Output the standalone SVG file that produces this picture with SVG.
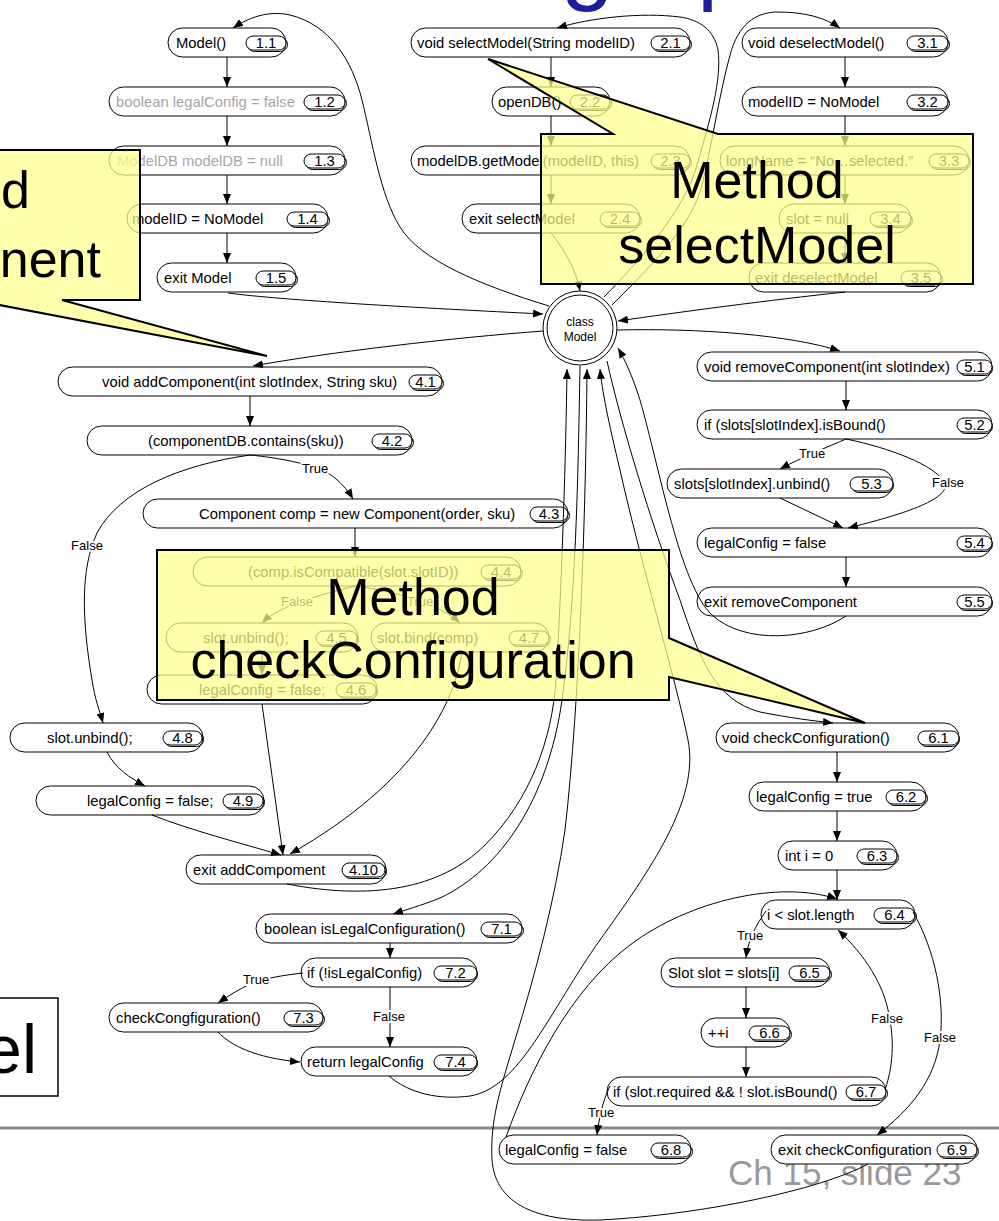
<svg xmlns="http://www.w3.org/2000/svg" width="999" height="1221" viewBox="0 0 999 1221">
<style>
  .box { fill: #fff; stroke: #000; stroke-width: 1; }
  .bd { fill: #fff; stroke: #000; stroke-width: 1; }
  .bs { fill: none; stroke: #000; stroke-width: 1; }
  .t { font-family: "Liberation Sans", Arial, sans-serif; font-size: 14.8px; fill: #000; }
  .g { fill: #a6a6a6; }
  .bt { font-family: "Liberation Sans", Arial, sans-serif; font-size: 14.8px; fill: #000; text-anchor: middle; }
  .e { fill: none; stroke: #000; stroke-width: 1; marker-end: url(#ah); }
  .lb { font-family: "Liberation Sans", Arial, sans-serif; font-size: 13px; fill: #000; text-anchor: middle; stroke: #fff; stroke-width: 4px; paint-order: stroke; stroke-linejoin: round; }
  .co { fill: #ffff8c; fill-opacity: 0.72; stroke: #000; stroke-width: 2; stroke-linejoin: miter; }
  .ct { font-family: "Liberation Sans", Arial, sans-serif; font-size: 52px; fill: #000; text-anchor: middle; }
</style>
<defs>
  <marker id="ah" viewBox="0 0 10 8" refX="10" refY="4" markerWidth="10" markerHeight="8" markerUnits="userSpaceOnUse" orient="auto">
    <path d="M0,0 L10,4 L0,8 z" fill="#000"/>
  </marker>
</defs>

<rect x="0" y="0" width="999" height="1221" fill="#fff"/>

<!-- slide title (descenders only) -->
<g id="title" font-family="Liberation Sans, Arial, sans-serif" font-size="95" fill="#1c1c9c">
  <text x="561" y="-8">g</text>
  <text x="697" y="-8">p</text>
</g>

<!-- footer rule and slide number -->
<line x1="0" y1="1128" x2="999" y2="1128" stroke="#888" stroke-width="3"/>
<text x="728" y="1185" font-family="Liberation Sans, Arial, sans-serif" font-size="35" fill="#999">Ch 15, slide 23</text>

<!-- class node -->
<g id="classModel">
  <circle cx="580" cy="328" r="37" fill="#fff" stroke="#000" stroke-width="1"/>
  <circle cx="580" cy="328" r="33" fill="none" stroke="#000" stroke-width="1"/>
  <text x="580" y="326" font-family="Liberation Sans, Arial, sans-serif" font-size="12" text-anchor="middle">class</text>
  <text x="580" y="341" font-family="Liberation Sans, Arial, sans-serif" font-size="12" text-anchor="middle">Model</text>
</g>

<!-- Model() -->
<g id="n1_1"><rect class="box" x="168" y="28" width="118" height="29" rx="14.5"/><text class="t" x="176" y="48">Model()</text><rect class="bs" x="247.5" y="37.5" width="40" height="14" rx="7"/><rect class="bd" x="246" y="36" width="40" height="14" rx="7"/><text class="bt" x="266" y="48">1.1</text></g>
<g id="n1_2"><rect class="box" x="109" y="87" width="236" height="29" rx="14.5"/><text class="t g" x="116" y="107">boolean legalConfig = false</text><rect class="bs" x="305.5" y="96.5" width="41" height="14" rx="7"/><rect class="bd" x="304" y="95" width="41" height="14" rx="7"/><text class="bt" x="324.5" y="107">1.2</text></g>
<g id="n1_3"><rect class="box" x="109" y="146" width="236" height="29" rx="14.5"/><text class="t g" x="117" y="166">ModelDB modelDB = null</text><rect class="bs" x="305.5" y="155.5" width="41" height="14" rx="7"/><rect class="bd" x="304" y="154" width="41" height="14" rx="7"/><text class="bt" x="324.5" y="166">1.3</text></g>
<g id="n1_4"><rect class="box" x="127" y="204" width="201" height="29" rx="14.5"/><text class="t" x="132" y="224">modelID = NoModel</text><rect class="bs" x="288.5" y="213.5" width="41" height="14" rx="7"/><rect class="bd" x="287" y="212" width="41" height="14" rx="7"/><text class="bt" x="307.5" y="224">1.4</text></g>
<g id="n1_5"><rect class="box" x="157" y="263" width="139" height="29" rx="14.5"/><text class="t" x="164" y="283">exit Model</text><rect class="bs" x="257.5" y="272.5" width="40" height="14" rx="7"/><rect class="bd" x="256" y="271" width="40" height="14" rx="7"/><text class="bt" x="276" y="283">1.5</text></g>

<!-- selectModel -->
<g id="n2_1"><rect class="box" x="411" y="28" width="279" height="29" rx="14.5"/><text class="t" x="417" y="48">void selectModel(String modelID)</text><rect class="bs" x="652.5" y="37.5" width="39" height="14" rx="7"/><rect class="bd" x="651" y="36" width="39" height="14" rx="7"/><text class="bt" x="670.5" y="48">2.1</text></g>
<g id="n2_2"><rect class="box" x="492" y="87" width="118" height="29" rx="14.5"/><text class="t" x="498" y="107">openDB()</text><rect class="bs" x="571.5" y="96.5" width="40" height="14" rx="7"/><rect class="bd" x="570" y="95" width="40" height="14" rx="7"/><text class="bt" x="590" y="107">2.2</text></g>
<g id="n2_3"><rect class="box" x="411" y="146" width="279" height="29" rx="14.5"/><text class="t" x="417" y="166">modelDB.getModel(modelID, this)</text><rect class="bs" x="652.5" y="155.5" width="39" height="14" rx="7"/><rect class="bd" x="651" y="154" width="39" height="14" rx="7"/><text class="bt" x="670.5" y="166">2.3</text></g>
<g id="n2_4"><rect class="box" x="462" y="204" width="178" height="29" rx="14.5"/><text class="t" x="469" y="224">exit selectModel</text><rect class="bs" x="601.5" y="213.5" width="40" height="14" rx="7"/><rect class="bd" x="600" y="212" width="40" height="14" rx="7"/><text class="bt" x="620" y="224">2.4</text></g>

<!-- deselectModel -->
<g id="n3_1"><rect class="box" x="742" y="28" width="206" height="29" rx="14.5"/><text class="t" x="748" y="48">void deselectModel()</text><rect class="bs" x="908.5" y="37.5" width="41" height="14" rx="7"/><rect class="bd" x="907" y="36" width="41" height="14" rx="7"/><text class="bt" x="927.5" y="48">3.1</text></g>
<g id="n3_2"><rect class="box" x="742" y="87" width="206" height="29" rx="14.5"/><text class="t" x="748" y="107">modelID = NoModel</text><rect class="bs" x="908.5" y="96.5" width="41" height="14" rx="7"/><rect class="bd" x="907" y="95" width="41" height="14" rx="7"/><text class="bt" x="927.5" y="107">3.2</text></g>
<g id="n3_3"><rect class="box" x="720" y="146" width="249" height="29" rx="14.5"/><text class="t" x="726" y="166">longName = “No…selected.”</text><rect class="bs" x="930.5" y="155.5" width="40" height="14" rx="7"/><rect class="bd" x="929" y="154" width="40" height="14" rx="7"/><text class="bt" x="949" y="166">3.3</text></g>
<g id="n3_4"><rect class="box" x="779" y="204" width="132" height="29" rx="14.5"/><text class="t" x="786" y="224">slot = null</text><rect class="bs" x="871.5" y="213.5" width="41" height="14" rx="7"/><rect class="bd" x="870" y="212" width="41" height="14" rx="7"/><text class="bt" x="890.5" y="224">3.4</text></g>
<g id="n3_5"><rect class="box" x="749" y="263" width="192" height="29" rx="14.5"/><text class="t" x="755" y="283">exit deselectModel</text><rect class="bs" x="902.5" y="272.5" width="40" height="14" rx="7"/><rect class="bd" x="901" y="271" width="40" height="14" rx="7"/><text class="bt" x="921" y="283">3.5</text></g>

<!-- addComponent -->
<g id="n4_1"><rect class="box" x="58" y="367" width="384" height="29" rx="14.5"/><text class="t" x="102" y="387">void addComponent(int slotIndex, String sku)</text><rect class="bs" x="410.5" y="376.5" width="33" height="14" rx="7"/><rect class="bd" x="409" y="375" width="33" height="14" rx="7"/><text class="bt" x="425.5" y="387">4.1</text></g>
<g id="n4_2"><rect class="box" x="87" y="426" width="325" height="29" rx="14.5"/><text class="t" x="148" y="446">(componentDB.contains(sku))</text><rect class="bs" x="373.5" y="435.5" width="40" height="14" rx="7"/><rect class="bd" x="372" y="434" width="40" height="14" rx="7"/><text class="bt" x="392" y="446">4.2</text></g>
<g id="n4_3"><rect class="box" x="143" y="499" width="425" height="29" rx="14.5"/><text class="t" x="199" y="519">Component comp = new Component(order, sku)</text><rect class="bs" x="531.5" y="508.5" width="38" height="14" rx="7"/><rect class="bd" x="530" y="507" width="38" height="14" rx="7"/><text class="bt" x="549" y="519">4.3</text></g>
<g id="n4_4"><rect class="box" x="193" y="557" width="328" height="29" rx="14.5"/><text class="t" x="248" y="577">(comp.isCompatible(slot.slotID))</text><rect class="bs" x="482.5" y="566.5" width="40" height="14" rx="7"/><rect class="bd" x="481" y="565" width="40" height="14" rx="7"/><text class="bt" x="501" y="577">4.4</text></g>
<g id="n4_5"><rect class="box" x="166" y="623" width="192" height="29" rx="14.5"/><text class="t" x="203" y="643">slot.unbind();</text><rect class="bs" x="317.5" y="632.5" width="41" height="14" rx="7"/><rect class="bd" x="316" y="631" width="41" height="14" rx="7"/><text class="bt" x="336.5" y="643">4.5</text></g>
<g id="n4_7"><rect class="box" x="371" y="623" width="178" height="29" rx="14.5"/><text class="t" x="377" y="643">slot.bind(comp)</text><rect class="bs" x="510.5" y="632.5" width="40" height="14" rx="7"/><rect class="bd" x="509" y="631" width="40" height="14" rx="7"/><text class="bt" x="529" y="643">4.7</text></g>
<g id="n4_6"><rect class="box" x="147" y="675" width="230" height="29" rx="14.5"/><text class="t" x="199" y="695">legalConfig = false;</text><rect class="bs" x="337.5" y="684.5" width="40" height="14" rx="7"/><rect class="bd" x="336" y="683" width="40" height="14" rx="7"/><text class="bt" x="356" y="695">4.6</text></g>
<g id="n4_8"><rect class="box" x="10" y="723" width="193" height="29" rx="14.5"/><text class="t" x="47" y="743">slot.unbind();</text><rect class="bs" x="164.5" y="732.5" width="39" height="14" rx="7"/><rect class="bd" x="163" y="731" width="39" height="14" rx="7"/><text class="bt" x="182.5" y="743">4.8</text></g>
<g id="n4_9"><rect class="box" x="36" y="786" width="228" height="29" rx="14.5"/><text class="t" x="87" y="806">legalConfig = false;</text><rect class="bs" x="224.5" y="795.5" width="40" height="14" rx="7"/><rect class="bd" x="223" y="794" width="40" height="14" rx="7"/><text class="bt" x="243" y="806">4.9</text></g>
<g id="n4_10"><rect class="box" x="186" y="855" width="200" height="29" rx="14.5"/><text class="t" x="193" y="875">exit addCompoment</text><rect class="bs" x="343.5" y="864.5" width="43" height="14" rx="7"/><rect class="bd" x="342" y="863" width="43" height="14" rx="7"/><text class="bt" x="363.5" y="875">4.10</text></g>

<!-- removeComponent -->
<g id="n5_1"><rect class="box" x="697" y="352" width="295" height="29" rx="14.5"/><text class="t" x="704" y="372">void removeComponent(int slotIndex)</text><rect class="bs" x="958.5" y="361.5" width="34" height="14" rx="7"/><rect class="bd" x="957" y="360" width="35" height="14" rx="7"/><text class="bt" x="974.5" y="372">5.1</text></g>
<g id="n5_2"><rect class="box" x="697" y="410" width="295" height="29" rx="14.5"/><text class="t" x="704" y="430">if (slots[slotIndex].isBound()</text><rect class="bs" x="958.5" y="419.5" width="34" height="14" rx="7"/><rect class="bd" x="957" y="418" width="35" height="14" rx="7"/><text class="bt" x="974.5" y="430">5.2</text></g>
<g id="n5_3"><rect class="box" x="667" y="469" width="226" height="29" rx="14.5"/><text class="t" x="674" y="489">slots[slotIndex].unbind()</text><rect class="bs" x="851.5" y="478.5" width="42" height="14" rx="7"/><rect class="bd" x="850" y="477" width="43" height="14" rx="7"/><text class="bt" x="871.5" y="489">5.3</text></g>
<g id="n5_4"><rect class="box" x="697" y="528" width="295" height="29" rx="14.5"/><text class="t" x="704" y="548">legalConfig = false</text><rect class="bs" x="958.5" y="537.5" width="34" height="14" rx="7"/><rect class="bd" x="957" y="536" width="35" height="14" rx="7"/><text class="bt" x="974.5" y="548">5.4</text></g>
<g id="n5_5"><rect class="box" x="697" y="587" width="295" height="29" rx="14.5"/><text class="t" x="704" y="607">exit removeComponent</text><rect class="bs" x="958.5" y="596.5" width="34" height="14" rx="7"/><rect class="bd" x="957" y="595" width="35" height="14" rx="7"/><text class="bt" x="974.5" y="607">5.5</text></g>

<!-- checkConfiguration -->
<g id="n6_1"><rect class="box" x="716" y="723" width="243" height="29" rx="14.5"/><text class="t" x="722" y="743">void checkConfiguration()</text><rect class="bs" x="919.5" y="732.5" width="40" height="14" rx="7"/><rect class="bd" x="918" y="731" width="41" height="14" rx="7"/><text class="bt" x="938.5" y="743">6.1</text></g>
<g id="n6_2"><rect class="box" x="749" y="782" width="177" height="29" rx="14.5"/><text class="t" x="756" y="802">legalConfig = true</text><rect class="bs" x="887.5" y="791.5" width="40" height="14" rx="7"/><rect class="bd" x="886" y="790" width="40" height="14" rx="7"/><text class="bt" x="906" y="802">6.2</text></g>
<g id="n6_3"><rect class="box" x="778" y="841" width="119" height="29" rx="14.5"/><text class="t" x="785" y="861">int i = 0</text><rect class="bs" x="858.5" y="850.5" width="40" height="14" rx="7"/><rect class="bd" x="857" y="849" width="40" height="14" rx="7"/><text class="bt" x="877" y="861">6.3</text></g>
<g id="n6_4"><rect class="box" x="761" y="900" width="154" height="29" rx="14.5"/><text class="t" x="767" y="920">i &lt; slot.length</text><rect class="bs" x="875.5" y="909.5" width="41" height="14" rx="7"/><rect class="bd" x="874" y="908" width="41" height="14" rx="7"/><text class="bt" x="894.5" y="920">6.4</text></g>
<g id="n6_5"><rect class="box" x="661" y="958" width="169" height="29" rx="14.5"/><text class="t" x="668" y="978">Slot slot = slots[i]</text><rect class="bs" x="790.5" y="967.5" width="41" height="14" rx="7"/><rect class="bd" x="789" y="966" width="41" height="14" rx="7"/><text class="bt" x="809.5" y="978">6.5</text></g>
<g id="n6_6"><rect class="box" x="701" y="1018" width="89" height="29" rx="14.5"/><text class="t" x="708" y="1038">++i</text><rect class="bs" x="750.5" y="1027.5" width="41" height="14" rx="7"/><rect class="bd" x="749" y="1026" width="41" height="14" rx="7"/><text class="bt" x="769.5" y="1038">6.6</text></g>
<g id="n6_7"><rect class="box" x="607" y="1077" width="279" height="29" rx="14.5"/><text class="t" x="613" y="1097">if (slot.required &amp;&amp; ! slot.isBound()</text><rect class="bs" x="847.5" y="1086.5" width="40" height="14" rx="7"/><rect class="bd" x="846" y="1085" width="40" height="14" rx="7"/><text class="bt" x="866" y="1097">6.7</text></g>
<g id="n6_8"><rect class="box" x="499" y="1135" width="192" height="29" rx="14.5"/><text class="t" x="505" y="1155">legalConfig = false</text><rect class="bs" x="652.5" y="1144.5" width="40" height="14" rx="7"/><rect class="bd" x="651" y="1143" width="40" height="14" rx="7"/><text class="bt" x="671" y="1155">6.8</text></g>
<g id="n6_9"><rect class="box" x="771" y="1135" width="206" height="29" rx="14.5"/><text class="t" x="778" y="1155">exit checkConfiguration</text><rect class="bs" x="938.5" y="1144.5" width="40" height="14" rx="7"/><rect class="bd" x="937" y="1143" width="40" height="14" rx="7"/><text class="bt" x="957" y="1155">6.9</text></g>

<!-- isLegalConfiguration -->
<g id="n7_1"><rect class="box" x="256" y="914" width="266" height="29" rx="14.5"/><text class="t" x="264" y="934">boolean isLegalConfiguration()</text><rect class="bs" x="482.5" y="923.5" width="41" height="14" rx="7"/><rect class="bd" x="481" y="922" width="41" height="14" rx="7"/><text class="bt" x="501.5" y="934">7.1</text></g>
<g id="n7_2"><rect class="box" x="301" y="958" width="176" height="29" rx="14.5"/><text class="t" x="307" y="978">if (!isLegalConfig)</text><rect class="bs" x="435.5" y="967.5" width="42" height="14" rx="7"/><rect class="bd" x="434" y="966" width="43" height="14" rx="7"/><text class="bt" x="455.5" y="978">7.2</text></g>
<g id="n7_3"><rect class="box" x="109" y="1003" width="214" height="29" rx="14.5"/><text class="t" x="116" y="1023">checkCongfiguration()</text><rect class="bs" x="285.5" y="1012.5" width="39" height="14" rx="7"/><rect class="bd" x="284" y="1011" width="39" height="14" rx="7"/><text class="bt" x="303.5" y="1023">7.3</text></g>
<g id="n7_4"><rect class="box" x="301" y="1047" width="176" height="29" rx="14.5"/><text class="t" x="307" y="1067">return legalConfig</text><rect class="bs" x="435.5" y="1056.5" width="42" height="14" rx="7"/><rect class="bd" x="434" y="1055" width="43" height="14" rx="7"/><text class="bt" x="455.5" y="1067">7.4</text></g>

<!-- connectors -->
<g id="edges">
  <!-- Model() -->
  <path class="e" d="M227,57 L227,87"/>
  <path class="e" d="M227,116 L227,146"/>
  <path class="e" d="M227,175 L227,204"/>
  <path class="e" d="M227,233 L227,263"/>
  <!-- selectModel -->
  <path class="e" d="M551,57 L551,87"/>
  <path class="e" d="M551,116 L551,146"/>
  <path class="e" d="M551,175 L551,204"/>
  <!-- deselectModel -->
  <path class="e" d="M845,57 L845,87"/>
  <path class="e" d="M845,116 L845,146"/>
  <path class="e" d="M845,175 L845,204"/>
  <path class="e" d="M845,233 L845,263"/>
  <!-- class node links -->
  <path class="e" d="M549,306 C480,285 420,260 400,227 C380,195 372,140 362,100 C352,60 330,25 290,15 C268,10 248,18 233,28"/>
  <path class="e" d="M604,297 C640,260 685,210 697,165 C710,120 722,80 718,50 C714,30 700,20 680,17 C640,12 590,18 557,28"/>
  <path class="e" d="M612,305 C655,262 692,225 702,185 C712,145 718,100 730,55 C738,25 755,12 778,12 C805,12 826,18 840,28"/>
  <path class="e" d="M228,293 C280,300 420,308 543,314"/>
  <path class="e" d="M551,233 C565,250 576,270 580,291"/>
  <path class="e" d="M845,292 C770,300 680,312 618,321"/>
  <path class="e" d="M543,331 C450,338 330,352 253,366"/>
  <path class="e" d="M617,330 C700,328 790,335 840,351"/>
  <path class="e" d="M287,884 C370,900 440,890 485,845 C530,800 552,740 556,680 C562,580 566,450 567,369"/>
  <path class="e" d="M580,366 C578,480 576,600 562,700 C548,800 500,870 440,898 C420,906 405,910 393,914"/>
  <path class="e" d="M868,1164 C820,1190 700,1215 600,1220 C530,1222 495,1200 492,1160 C490,1120 500,1090 515,1040 C535,975 555,900 565,830 C580,700 586,500 587,369"/>
  <path class="e" d="M389,1076 C410,1094 440,1100 470,1096 C520,1088 550,1010 600,940 C650,870 700,800 688,740 C676,680 640,560 620,470 C608,420 602,390 600,369"/>
  <path class="e" d="M607,361 C620,420 650,520 680,600 C700,660 715,700 760,712 C790,718 815,721 833,723"/>
  <path class="e" d="M846,616 C810,640 745,645 712,615 C680,585 660,470 640,400 C632,375 625,360 618,348"/>
  <!-- addComponent -->
  <path class="e" d="M250,396 L250,426"/>
  <path class="e" d="M250,455 C280,458 320,465 335,478 C343,485 349,492 353,499"/>
  <path class="e" d="M250,455 C180,465 120,490 97,533 C80,570 82,620 92,680 C95,700 100,712 103,723"/>
  <path class="e" d="M355,528 L355,557"/>
  <path class="e" d="M355,586 C320,595 280,605 262,623"/>
  <path class="e" d="M355,586 C400,592 440,605 460,623"/>
  <path class="e" d="M262,652 L262,675"/>
  <path class="e" d="M262,704 L283,855"/>
  <path class="e" d="M462,652 C455,700 420,780 290,854"/>
  <path class="e" d="M107,752 C115,768 130,778 145,786"/>
  <path class="e" d="M152,815 C190,830 240,843 281,855"/>
  <!-- removeComponent -->
  <path class="e" d="M846,381 L846,410"/>
  <path class="e" d="M846,439 C830,446 800,458 780,469"/>
  <path class="e" d="M846,439 C890,448 935,465 945,483 C950,500 900,515 848,528"/>
  <path class="e" d="M780,498 L843,528"/>
  <path class="e" d="M846,557 L846,587"/>
  <!-- checkConfiguration -->
  <path class="e" d="M837,752 L837,782"/>
  <path class="e" d="M837,811 L837,841"/>
  <path class="e" d="M837,870 L837,900"/>
  <path class="e" d="M766,911 C756,925 748,940 746,958"/>
  <path class="e" d="M746,987 L746,1018"/>
  <path class="e" d="M746,1047 L746,1077"/>
  <path class="e" d="M610,1086 C603,1100 599,1118 597,1135"/>
  <path class="e" d="M885,1090 C895,1060 893,1035 889,1015 C884,985 865,955 838,930"/>
  <path class="e" d="M913,912 C935,950 945,1000 940,1040 C935,1080 910,1110 877,1135"/>
  <path class="e" d="M506,1137 C530,1070 570,990 630,945 C690,900 780,880 837,899"/>
  <!-- isLegalConfiguration -->
  <path class="e" d="M390,943 L390,958"/>
  <path class="e" d="M303,973 C285,975 265,978 250,984 C238,990 228,996 218,1003"/>
  <path class="e" d="M390,987 L390,1047"/>
  <path class="e" d="M218,1032 C230,1045 255,1058 300,1062"/>
  <!-- branch labels -->
  <text class="lb" x="315" y="473">True</text>
  <text class="lb" x="87" y="550">False</text>
  <text class="lb" x="297" y="606">False</text>
  <text class="lb" x="420" y="606">True</text>
  <text class="lb" x="812" y="458">True</text>
  <text class="lb" x="948" y="487">False</text>
  <text class="lb" x="750" y="940">True</text>
  <text class="lb" x="887" y="1023">False</text>
  <text class="lb" x="940" y="1042">False</text>
  <text class="lb" x="601" y="1117">True</text>
  <text class="lb" x="256" y="984">True</text>
  <text class="lb" x="389" y="1021">False</text>
</g>

<!-- callouts -->
<g id="calloutAdd">
  <path class="co" d="M-60,150 L140,150 L140,300 L62,300 L267,356 L-27,300 L-60,300 Z"/>
  <text class="ct" x="30" y="208" style="text-anchor:end">d</text>
  <text class="ct" x="101" y="277" style="text-anchor:end">nent</text>
</g>
<g id="calloutSelect">
  <path class="co" d="M541,134 L613,134 L488,59 L718,134 L973,134 L973,284 L541,284 Z"/>
  <text class="ct" x="757" y="198">Method</text>
  <text class="ct" x="757" y="263">selectModel</text>
</g>
<g id="calloutCheck">
  <path class="co" d="M157,550 L669,550 L669,638 L865,723 L669,677 L669,700 L157,700 Z"/>
  <text class="ct" x="413" y="615">Method</text>
  <text class="ct" x="413" y="678">checkConfiguration</text>
</g>

<!-- slide caption box -->
<g id="captionBox">
  <rect x="-2" y="998" width="60" height="98" fill="#fff" stroke="#000" stroke-width="1.5"/>
  <text x="37" y="1073" font-family="Liberation Sans, Arial, sans-serif" font-size="68" text-anchor="end">el</text>
</g>
</svg>
